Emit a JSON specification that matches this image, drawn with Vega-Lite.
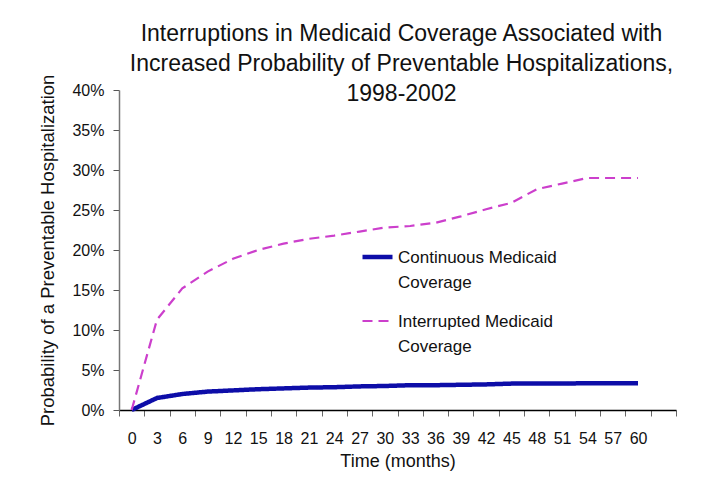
{
  "$schema": "https://vega.github.io/schema/vega-lite/v6.json",
  "autosize": "none",
  "width": 557,
  "height": 320,
  "padding": {"left": 119, "top": 90, "right": 38, "bottom": 72},
  "background": "white",
  "title": {
    "text": ["Interruptions in Medicaid Coverage Associated with", "Increased Probability of Preventable Hospitalizations,", "1998-2002"],
    "font": "Liberation Sans",
    "fontSize": 23,
    "fontWeight": "normal",
    "color": "#111111",
    "lineHeight": 30,
    "anchor": "middle",
    "dx": 4,
    "offset": -32
  },
  "config": {
    "view": {"stroke": null},
    "font": "Liberation Sans"
  },
  "data": {
    "values": [
      {"month": 0, "series": "Continuous Medicaid Coverage", "p": 0},
      {"month": 3, "series": "Continuous Medicaid Coverage", "p": 0.015},
      {"month": 6, "series": "Continuous Medicaid Coverage", "p": 0.020},
      {"month": 9, "series": "Continuous Medicaid Coverage", "p": 0.023},
      {"month": 12, "series": "Continuous Medicaid Coverage", "p": 0.0245},
      {"month": 15, "series": "Continuous Medicaid Coverage", "p": 0.026},
      {"month": 18, "series": "Continuous Medicaid Coverage", "p": 0.027},
      {"month": 21, "series": "Continuous Medicaid Coverage", "p": 0.028},
      {"month": 24, "series": "Continuous Medicaid Coverage", "p": 0.0285},
      {"month": 27, "series": "Continuous Medicaid Coverage", "p": 0.0295},
      {"month": 30, "series": "Continuous Medicaid Coverage", "p": 0.030},
      {"month": 33, "series": "Continuous Medicaid Coverage", "p": 0.031},
      {"month": 36, "series": "Continuous Medicaid Coverage", "p": 0.031},
      {"month": 39, "series": "Continuous Medicaid Coverage", "p": 0.0315},
      {"month": 42, "series": "Continuous Medicaid Coverage", "p": 0.032},
      {"month": 45, "series": "Continuous Medicaid Coverage", "p": 0.033},
      {"month": 48, "series": "Continuous Medicaid Coverage", "p": 0.033},
      {"month": 51, "series": "Continuous Medicaid Coverage", "p": 0.033},
      {"month": 54, "series": "Continuous Medicaid Coverage", "p": 0.0335},
      {"month": 57, "series": "Continuous Medicaid Coverage", "p": 0.0335},
      {"month": 60, "series": "Continuous Medicaid Coverage", "p": 0.0335},
      {"month": 0, "series": "Interrupted Medicaid Coverage", "p": 0},
      {"month": 3, "series": "Interrupted Medicaid Coverage", "p": 0.113},
      {"month": 6, "series": "Interrupted Medicaid Coverage", "p": 0.152},
      {"month": 9, "series": "Interrupted Medicaid Coverage", "p": 0.173},
      {"month": 12, "series": "Interrupted Medicaid Coverage", "p": 0.189},
      {"month": 15, "series": "Interrupted Medicaid Coverage", "p": 0.200},
      {"month": 18, "series": "Interrupted Medicaid Coverage", "p": 0.208},
      {"month": 21, "series": "Interrupted Medicaid Coverage", "p": 0.214},
      {"month": 24, "series": "Interrupted Medicaid Coverage", "p": 0.218},
      {"month": 27, "series": "Interrupted Medicaid Coverage", "p": 0.223},
      {"month": 30, "series": "Interrupted Medicaid Coverage", "p": 0.228},
      {"month": 33, "series": "Interrupted Medicaid Coverage", "p": 0.230},
      {"month": 36, "series": "Interrupted Medicaid Coverage", "p": 0.234},
      {"month": 39, "series": "Interrupted Medicaid Coverage", "p": 0.242},
      {"month": 42, "series": "Interrupted Medicaid Coverage", "p": 0.251},
      {"month": 45, "series": "Interrupted Medicaid Coverage", "p": 0.259},
      {"month": 48, "series": "Interrupted Medicaid Coverage", "p": 0.276},
      {"month": 51, "series": "Interrupted Medicaid Coverage", "p": 0.283},
      {"month": 54, "series": "Interrupted Medicaid Coverage", "p": 0.290},
      {"month": 57, "series": "Interrupted Medicaid Coverage", "p": 0.290},
      {"month": 60, "series": "Interrupted Medicaid Coverage", "p": 0.290}
    ]
  },
  "mark": {"type": "line", "strokeCap": "butt"},
  "encoding": {
    "x": {
      "field": "month",
      "type": "quantitative",
      "scale": {"domain": [-1.5, 64.5], "nice": false, "zero": false},
      "axis": {
        "title": "Time (months)",
        "titleFontSize": 18,
        "titleFontWeight": "normal",
        "titleColor": "#111111",
        "titlePadding": 6,
        "values": [-1.5, 1.5, 4.5, 7.5, 10.5, 13.5, 16.5, 19.5, 22.5, 25.5, 28.5, 31.5, 34.5, 37.5, 40.5, 43.5, 46.5, 49.5, 52.5, 55.5, 58.5, 61.5, 64.5],
        "labelExpr": "datum.value + 1.5 <= 60 ? format(datum.value + 1.5, 'd') : ''",
        "labelOffset": 12.66,
        "labelFontSize": 16,
        "labelColor": "#111111",
        "labelPadding": 14,
        "labelFlush": false,
        "labelOverlap": false,
        "labelBound": false,
        "tickSize": 6,
        "tickColor": "#666666",
        "tickWidth": 1,
        "domainColor": "#000000",
        "domainWidth": 1.5,
        "grid": false
      }
    },
    "y": {
      "field": "p",
      "type": "quantitative",
      "scale": {"domain": [0, 0.4], "nice": false},
      "axis": {
        "title": "Probability of a Preventable Hospitalization",
        "titleFontSize": 18.5,
        "titleFontWeight": "normal",
        "titleColor": "#111111",
        "titlePadding": 14,
        "values": [0, 0.05, 0.1, 0.15, 0.2, 0.25, 0.3, 0.35, 0.4],
        "format": ".0%",
        "labelFontSize": 16,
        "labelColor": "#111111",
        "labelPadding": 9,
        "labelFlush": false,
        "tickSize": 6,
        "tickColor": "#555555",
        "domainColor": "#777777",
        "domainWidth": 1.5,
        "grid": false
      }
    },
    "color": {
      "field": "series",
      "type": "nominal",
      "scale": {"range": ["#0d0da8", "#cc3fcc"]},
      "legend": {
        "title": null,
        "orient": "none",
        "legendX": 241,
        "legendY": 142,
        "symbolType": "M-1,0.5H1",
        "symbolSize": 900,
        "symbolStrokeWidth": 3,
        "symbolFillColor": "transparent",
        "labelFont": "Liberation Sans",
        "labelFontSize": 17,
        "labelColor": "#111111",
        "labelBaseline": "top",
        "labelOffset": 3,
        "rowPadding": 6,
        "labelLimit": 300,
        "labelExpr": "[replace(datum.label, ' Coverage', ''), 'Coverage']",
        "encode": {"labels": {"update": {"lineHeight": {"value": 25}}}}
      }
    },
    "strokeDash": {
      "field": "series",
      "type": "nominal",
      "scale": {"range": [[1, 0], [10, 6]]},
      "legend": {
        "title": null,
        "orient": "none",
        "legendX": 241,
        "legendY": 142,
        "symbolType": "M-1,0.5H1",
        "symbolSize": 900,
        "symbolStrokeWidth": 3,
        "symbolFillColor": "transparent",
        "labelFont": "Liberation Sans",
        "labelFontSize": 17,
        "labelColor": "#111111",
        "labelBaseline": "top",
        "labelOffset": 3,
        "rowPadding": 6,
        "labelLimit": 300,
        "labelExpr": "[replace(datum.label, ' Coverage', ''), 'Coverage']",
        "encode": {"labels": {"update": {"lineHeight": {"value": 25}}}}
      }
    },
    "strokeWidth": {
      "field": "series",
      "type": "nominal",
      "scale": {"range": [4.5, 2.2]},
      "legend": null
    }
  }
}
